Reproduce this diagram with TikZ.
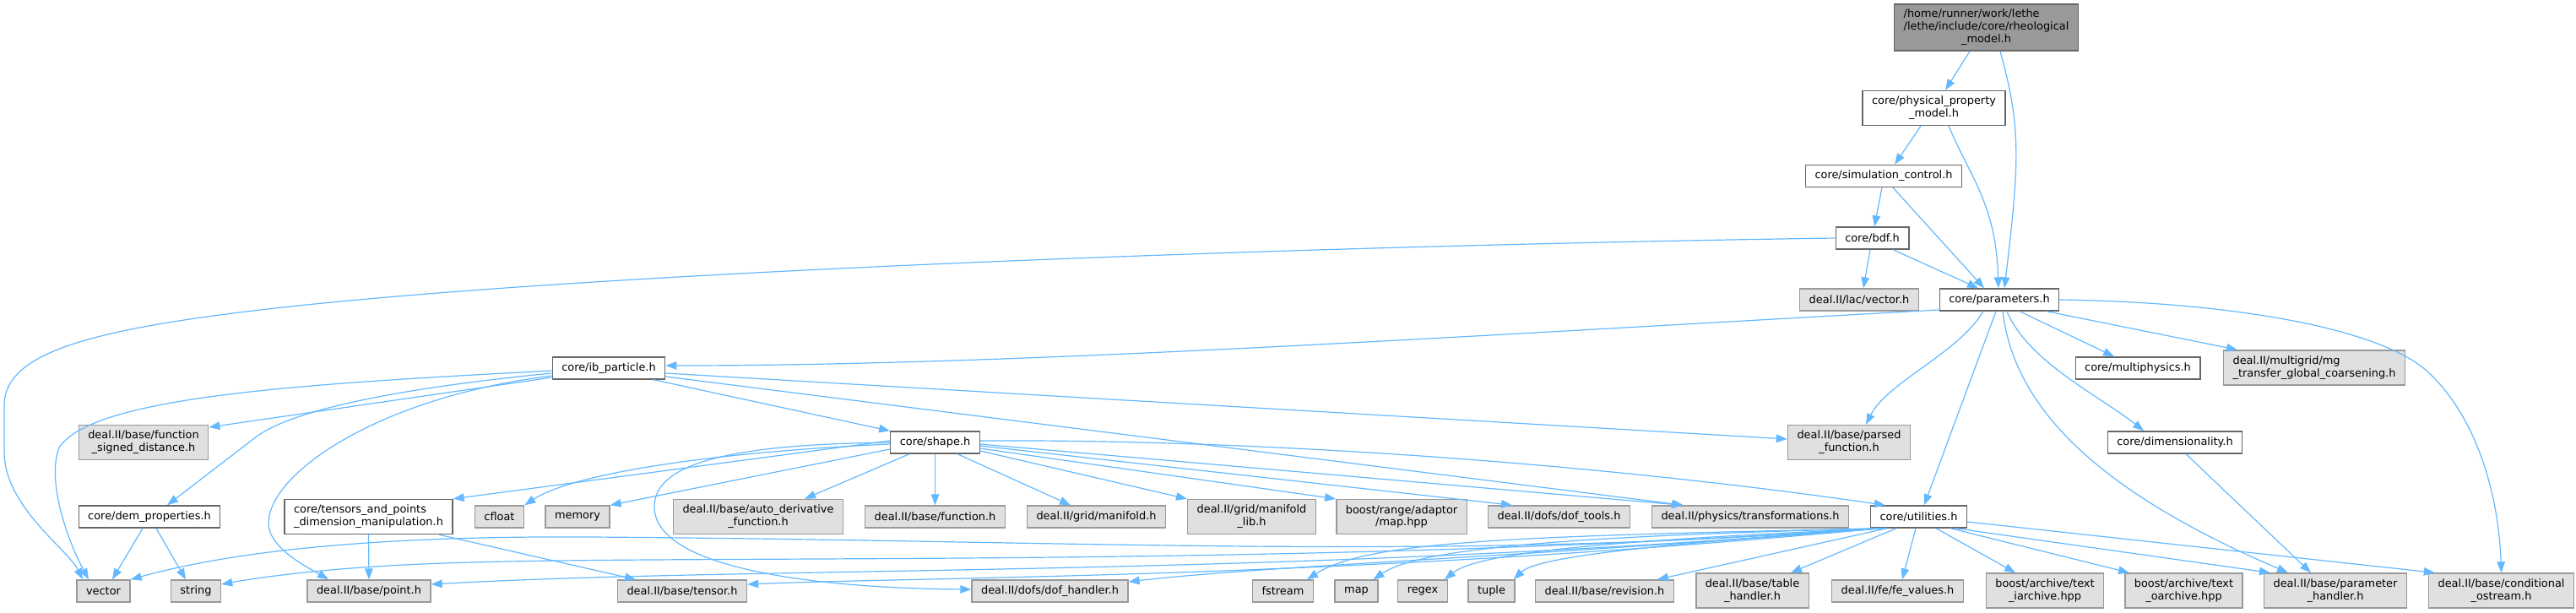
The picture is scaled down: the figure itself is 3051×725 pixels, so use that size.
\documentclass[tikz,border=0pt]{standalone}
\usepackage{fontspec}
\usepackage{xcolor}
\usepackage{tikz}
\usetikzlibrary{arrows.meta}
\newfontfamily\incfont{DejaVu Sans}
\definecolor{edgeblue}{HTML}{63B8FF}
\definecolor{sysfill}{HTML}{E0E0E0}
\definecolor{sysline}{HTML}{999999}
\definecolor{fileline}{HTML}{666666}
\definecolor{rootfill}{HTML}{999999}

\begin{document}
\begin{tikzpicture}[x=0.5pt, y=-0.5pt,
  inc/.style={draw=edgeblue, line width=0.6pt, -{Triangle[length=6.5pt,width=4.8pt]}},
  file/.style={draw=fileline, fill=white, line width=0.7pt, inner xsep=5.5pt, inner ysep=0pt,
    minimum height=13pt, font=\incfont\fontsize{6.45}{7.4}\selectfont},
  sysfile/.style={file, draw=sysline, fill=sysfill},
  tall/.style={minimum height=20.5pt, align=center},
  rootfile/.style={file, fill=rootfill, minimum height=27.5pt}]
\useasboundingbox (0,0) rectangle (3051,725);
% the header itself
\node[rootfile] (rheo) at (2352.5,32.5) {\begin{tabular}{@{}l@{}}/home/runner/work/lethe\\/lethe/include/core/rheological\\\multicolumn{1}{@{}c@{}}{\_model.h}\end{tabular}};
% lethe headers
\node[file,tall] (ppm) at (2290.5,128) {core/physical\_property\\\_model.h};
\node[file] (simctl) at (2231,208.5) {core/simulation\_control.h};
\node[file] (bdf) at (2217.5,282) {core/bdf.h};
\node[file] (par) at (2368,355) {core/parameters.h};
\node[file] (ibp) at (721,436) {core/ib\_particle.h};
\node[file] (mphys) at (2532,436) {core/multiphysics.h};
\node[file] (shape) at (1107.5,524) {core/shape.h};
\node[file] (dimen) at (2576,524) {core/dimensionality.h};
\node[file] (dem) at (177,612) {core/dem\_properties.h};
\node[file,tall,align=left] (tap) at (436.5,612) {core/tensors\_and\_points\\\_dimension\_manipulation.h};
\node[file] (util) at (2272.5,612) {core/utilities.h};
% system and library headers
\node[sysfile] (lacvec) at (2202,355) {deal.II/lac/vector.h};
\node[sysfile,tall,align=left] (mgtr) at (2741,435.5) {deal.II/multigrid/mg\\\_transfer\_global\_coarsening.h};
\node[sysfile,tall] (fsd) at (170,524) {deal.II/base/function\\\_signed\_distance.h};
\node[sysfile,tall] (parsed) at (2190,524) {deal.II/base/parsed\\\_function.h};
\node[sysfile] (cfloat) at (591.5,612) {cfloat};
\node[sysfile] (memory) at (684,612) {memory};
\node[sysfile,tall] (autod) at (898,612) {deal.II/base/auto\_derivative\\\_function.h};
\node[sysfile] (func) at (1107.5,612) {deal.II/base/function.h};
\node[sysfile] (manif) at (1298.5,612) {deal.II/grid/manifold.h};
\node[sysfile,tall] (maniflib) at (1482.5,612) {deal.II/grid/manifold\\\_lib.h};
\node[sysfile,tall] (rmap) at (1660,612) {boost/range/adaptor\\/map.hpp};
\node[sysfile] (doftools) at (1846.5,612) {deal.II/dofs/dof\_tools.h};
\node[sysfile] (transf) at (2073,612) {deal.II/physics/transformations.h};
% bottom row
\foreach \nm/\x/\txt in {vector/122.5/vector, string/232/string, point/437/{deal.II/base/point.h},
    tensor/808/{deal.II/base/tensor.h}, dofh/1243.5/{deal.II/dofs/dof\_handler.h}, fstream/1519.5/fstream,
    map/1606.5/map, regex/1685/regex, tuple/1766.5/tuple, revision/1900.5/{deal.II/base/revision.h},
    fevals/2247.5/{deal.II/fe/fe\_values.h}}
  \node[sysfile] (\nm) at (\x,700) {\txt};
\node[sysfile,tall] (table) at (2075.5,699.5) {deal.II/base/table\\\_handler.h};
\node[sysfile,tall] (iarch) at (2422,699.5) {boost/archive/text\\\_iarchive.hpp};
\node[sysfile,tall] (oarch) at (2586.5,699.5) {boost/archive/text\\\_oarchive.hpp};
\node[sysfile,tall] (parh) at (2766,699.5) {deal.II/base/parameter\\\_handler.h};
\node[sysfile,tall] (condo) at (2962.5,699.5) {deal.II/base/conditional\\\_ostream.h};

% includes of the header and the upper chain
\draw[inc] ([xshift=-9.75pt]rheo.south) -- ([xshift=6.75pt]ppm.north);
\draw[inc] ([xshift=8.25pt]rheo.south) .. controls +(25,90) and +(18,-150) .. ([xshift=3pt]par.north);
\draw[inc] ([xshift=-7.75pt]ppm.south) -- ([xshift=6.5pt]simctl.north);
\draw[inc] ([xshift=8.75pt]ppm.south) .. controls +(25,60) and +(-3,-100) .. ([xshift=-0.5pt]par.north);
\draw[inc] ([xshift=-1pt]simctl.south) -- ([xshift=1.25pt]bdf.north);
\draw[inc] ([xshift=5.5pt]simctl.south) -- ([xshift=-9pt]par.north);
\draw[inc] ([xshift=-1.25pt]bdf.south) -- ([xshift=2.5pt]lacvec.north);
\draw[inc] ([xshift=12.25pt]bdf.south) -- ([xshift=-12.5pt]par.north);
\draw[inc] (bdf.west) .. controls (1600,290) and (700,320) .. (300,368)
  .. controls (100,392) and (5,420) .. (5,480) -- (5,535)
  .. controls (5,600) and (80,650) .. ([xshift=-12.25pt]vector.north);

% parameters.h
\draw[inc] ([yshift=-6pt]par.west) .. controls (1700,400) and (1200,433) .. ([yshift=1.5pt]ibp.east);
\draw[inc] ([xshift=-9.5pt]par.south) .. controls +(-30,50) and +(25,-50) .. ([xshift=10pt]parsed.north);
\draw[inc] ([xshift=-2pt]par.south) -- ([xshift=3.25pt]util.north);
\draw[inc] ([xshift=2pt]par.south) .. controls (2385,480) and (2480,580) .. ([xshift=-28pt]parh.north);
\draw[inc] ([xshift=4.5pt]par.south) .. controls +(25,60) and +(-50,-40) .. ([xshift=-18.5pt]dimen.north);
\draw[inc] ([xshift=12pt]par.south) -- ([xshift=-14pt]mphys.north);
\draw[inc] ([xshift=28pt]par.south) -- ([xshift=-45.5pt]mgtr.north);
\draw[inc] (par.east) .. controls (2650,358) and (2820,390) .. (2875,440)
  .. controls (2940,500) and (2960,600) .. (condo.north);

% ib_particle.h
\draw[inc] ([yshift=-1.5pt]ibp.west) .. controls (350,455) and (110,470) .. (70,530)
  .. controls (55,570) and (80,640) .. ([xshift=-8.75pt]vector.north);
\draw[inc] ([yshift=-5.5pt]ibp.west) -- ([yshift=9pt]fsd.east);
\draw[inc] ([yshift=-3pt]ibp.west) .. controls (420,465) and (330,495) .. (300,520) -- ([xshift=10.5pt]dem.north);
\draw[inc] ([yshift=-4.5pt]ibp.west) .. controls (450,470) and (318,560) .. (318,620)
  .. controls (318,650) and (370,675) .. ([xshift=-24pt]point.north);
\draw[inc] ([xshift=26.5pt]ibp.south) -- (shape.north west);
\draw[inc] ([yshift=-3pt]ibp.east) -- ([yshift=2pt]parsed.west);
\draw[inc] ([yshift=-5pt]ibp.east) -- ([xshift=-39.5pt]transf.north);

% dem_properties.h and tensors_and_points
\draw[inc] ([xshift=-4pt]dem.south) -- ([xshift=5.25pt]vector.north);
\draw[inc] ([xshift=4pt]dem.south) -- ([xshift=-6pt]string.north);
\draw[inc] (tap.south) -- (point.north);
\draw[inc] ([xshift=41.75pt]tap.south) -- ([xshift=-27.5pt]tensor.north);

% shape.h
\draw[inc] ([yshift=1pt]shape.west) -- (tap.north east);
\draw[inc] ([yshift=-1pt]shape.west) .. controls (850,535) and (680,560) .. (cfloat.north east);
\draw[inc] ([yshift=-4pt]shape.west) -- (memory.north east);
\draw[inc] (shape.west) .. controls (880,526) and (775,545) .. (775,600)
  .. controls (775,680) and (1000,697) .. ([yshift=1pt]dofh.west);
\draw[inc] ([xshift=-15.25pt]shape.south) -- ([xshift=27.5pt]autod.north);
\draw[inc] (shape.south) -- (func.north);
\draw[inc] ([xshift=13.25pt]shape.south) -- ([xshift=-15.25pt]manif.north);
\draw[inc] ([yshift=-5pt]shape.east) -- (maniflib.north west);
\draw[inc] ([yshift=-3.5pt]shape.east) -- (rmap.north west);
\draw[inc] ([yshift=-2pt]shape.east) -- ([xshift=-27.75pt]doftools.north);
\draw[inc] ([yshift=-1pt]shape.east) -- ([xshift=-40pt]transf.north);
\draw[inc] ([yshift=1pt]shape.east) .. controls (1500,520) and (1900,550) .. ([xshift=9pt]util.north west);

% dimensionality.h
\draw[inc] ([xshift=6.5pt]dimen.south) -- ([xshift=-14.5pt]parh.north);

% utilities.h
\draw[inc] ([xshift=3pt]util.south west) .. controls (1700,665) and (1300,640) .. (700,636)
  .. controls (400,634) and (250,660) .. (vector.north east);
\draw[inc] ([xshift=4pt]util.south west) .. controls (1500,675) and (800,655) .. (500,668)
  .. controls (380,673) and (300,685) .. ([yshift=4pt]string.east);
\draw[inc] ([xshift=5pt]util.south west) .. controls (1500,685) and (900,670) .. ([yshift=4pt]point.east);
\draw[inc] ([xshift=6pt]util.south west) .. controls (1600,685) and (1100,683) .. ([yshift=4pt]tensor.east);
\draw[inc] ([xshift=7pt]util.south west) .. controls (1800,660) and (1500,670) .. ([yshift=5.5pt]dofh.east);
\draw[inc] ([xshift=8pt]util.south west) .. controls (1800,635) and (1620,640) .. ([xshift=-4pt]fstream.north east);
\draw[inc] ([xshift=8.5pt]util.south west) .. controls (1850,635) and (1680,650) .. ([xshift=-3pt]map.north east);
\draw[inc] ([xshift=9pt]util.south west) .. controls (1900,640) and (1750,655) .. ([xshift=-2pt]regex.north east);
\draw[inc] ([xshift=9.5pt]util.south west) .. controls (1950,645) and (1820,660) .. ([xshift=-1pt]tuple.north east);
\draw[inc] ([xshift=10pt]util.south west) -- ([xshift=-10pt]revision.north east);
\draw[inc] ([xshift=-13.25pt]util.south) -- ([xshift=22.75pt]table.north);
\draw[inc] ([xshift=-1.75pt]util.south) -- ([xshift=2.75pt]fevals.north);
\draw[inc] ([xshift=10.25pt]util.south) -- ([xshift=-17.5pt]iarch.north);
\draw[inc] ([xshift=18.75pt]util.south) -- ([xshift=-32.25pt]oarch.north);
\draw[inc] ([xshift=21.75pt]util.south) -- ([xshift=4pt]parh.north west);
\draw[inc] ([yshift=-3pt]util.east) -- ([xshift=4pt]condo.north west);
\end{tikzpicture}
\end{document}
